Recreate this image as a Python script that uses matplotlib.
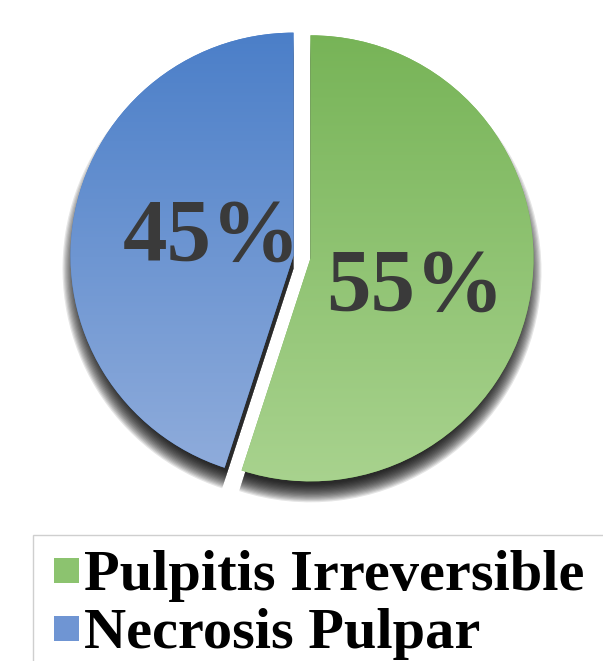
import numpy as np
import matplotlib.pyplot as plt
from matplotlib.lines import Line2D
from matplotlib.colors import LinearSegmentedColormap

labels = ["Pulpitis Irreversible", "Necrosis Pulpar"]
values = [55, 45]
pct_text = ["55%", "45%"]
top_cols = ["#76b356", "#4a7ec8"]
bot_cols = ["#a9d38f", "#92aedc"]

W, H = 603, 661
fig = plt.figure(figsize=(W / 100, H / 100), dpi=100)
ax = fig.add_axes([0, 0, 1, 1])

cx, cy, r = 302, H - 257, 223
expl = [8.6, 8.6]  # pie explode is in data units here

# blurred shadow, drawn first
for k in range(16):
    ax.pie(values, center=(cx, cy - 13), radius=r - 10 + k * 1.2,
           colors=["black", "black"], startangle=90, counterclock=False,
           explode=expl, frame=True,
           wedgeprops=dict(alpha=0.1, linewidth=0))

wedges, _ = ax.pie(values, center=(cx, cy), radius=r, colors=top_cols,
                   startangle=90, counterclock=False, explode=expl,
                   frame=True, wedgeprops=dict(linewidth=0))

# gradient fill per slice
for w, c0, c1 in zip(wedges, top_cols, bot_cols):
    cmap = LinearSegmentedColormap.from_list("g", [c1, c0])
    grad = np.linspace(0, 1, 256).reshape(-1, 1)
    im = ax.imshow(grad, cmap=cmap, origin="lower", aspect="auto",
                   extent=[cx - r - 30, cx + r + 30, cy - r - 10, cy + r + 10],
                   zorder=2)
    im.set_clip_path(w)

ax.text(415, H - 288, pct_text[0], fontsize=64, fontweight="bold",
        family="Liberation Serif", color="#3a3a3a", ha="center", va="center",
        zorder=3)
ax.text(212, H - 238, pct_text[1], fontsize=64, fontweight="bold",
        family="Liberation Serif", color="#3a3a3a", ha="center", va="center",
        zorder=3)

ax.set_xlim(0, W)
ax.set_ylim(0, H)
ax.set_aspect("equal")
ax.axis("off")

handles = [Line2D([], [], linestyle="none", marker="s", markersize=18,
                  markerfacecolor=c, markeredgewidth=0)
           for c in ["#8cc36f", "#6f95d3"]]
leg = fig.legend(handles, labels, loc="upper left",
                 bbox_to_anchor=(33 / W, -0.05, 1.0, 1 - 535 / H + 0.05),
                 mode="expand",
                 prop=dict(family="Liberation Serif", weight="bold", size=42),
                 handlelength=0.62, handletextpad=0.0,
                 labelspacing=0.09, borderpad=0.25, borderaxespad=0,
                 fancybox=False, edgecolor="#cfcfcf", framealpha=1)
leg.get_frame().set_linewidth(1)

fig.savefig("out.png", dpi=100)
